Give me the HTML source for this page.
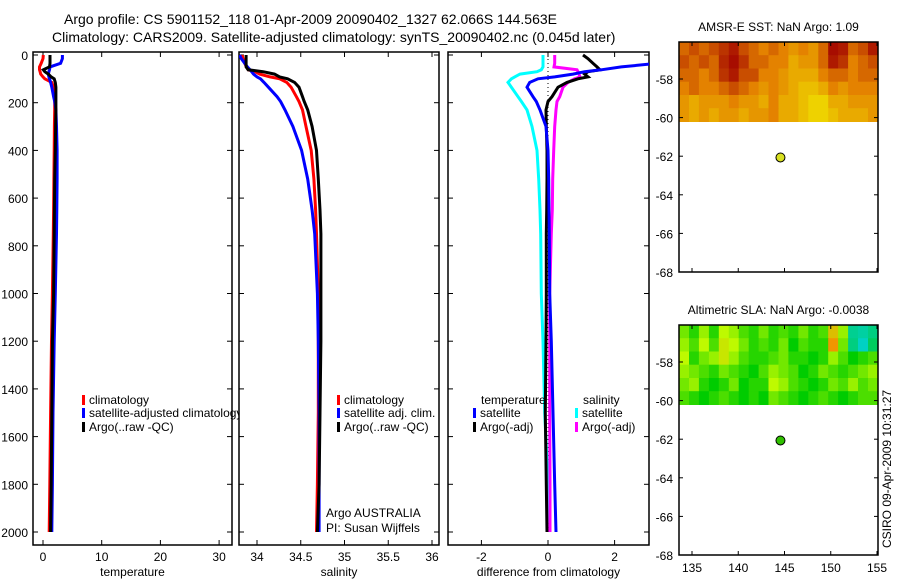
<!DOCTYPE html>
<html><head><meta charset="utf-8">
<style>
body{margin:0;background:#fff;}
svg{display:block;font-family:"Liberation Sans",Arial,sans-serif;}
</style></head>
<body>
<svg id="fig" width="900" height="580" viewBox="0 0 900 580" xmlns="http://www.w3.org/2000/svg">
<defs>
<clipPath id="c1"><rect x="33" y="52" width="199" height="493"/></clipPath>
<clipPath id="c2"><rect x="239" y="52" width="200" height="493"/></clipPath>
<clipPath id="c3"><rect x="448" y="52" width="201" height="493"/></clipPath>
<clipPath id="cl1"><rect x="33" y="380" width="206" height="60"/></clipPath>
</defs>
<text x="64" y="24" font-size="14">Argo profile: CS 5901152_118 01-Apr-2009 20090402_1327 62.066S 144.563E</text>
<text x="52" y="42" font-size="14">Climatology: CARS2009. Satellite-adjusted climatology: synTS_20090402.nc (0.045d later)</text>
<g id="g"></g>
</svg>
<script>
// ---- data ----
const depths = [0,15,35,50,62,70,80,92,100,115,135,175,195,230,300,400,520,650,750,1000,1200,1500,1800,2000];
const tempClim = [0.05,0.0,-0.3,-0.6,-0.6,-0.5,-0.4,0.0,0.3,1.5,1.8,2.0,2.0,2.0,1.95,1.9,1.85,1.8,1.75,1.6,1.45,1.3,1.15,1.05];
const tempArgo = [1.2,1.2,1.2,1.1,0.05,0.3,0.9,1.4,1.9,2.1,2.2,2.2,2.2,2.2,2.15,2.1,2.0,1.95,1.9,1.8,1.6,1.5,1.4,1.3];
const tempSat  = [3.3,3.3,3.0,1.2,1.1,1.0,0.9,1.0,1.1,1.3,1.5,1.8,2.0,2.2,2.3,2.4,2.4,2.35,2.3,2.1,1.9,1.7,1.6,1.5];
const salClim = [33.83,33.84,33.86,33.88,33.9,33.98,34.03,34.15,34.26,34.34,34.39,34.45,34.48,34.52,34.56,34.62,34.65,34.67,34.68,34.70,34.70,34.70,34.69,34.68];
const salArgo = [33.875,33.875,33.875,33.875,33.9,34.07,34.2,34.26,34.35,34.43,34.48,34.52,34.54,34.58,34.63,34.68,34.70,34.72,34.73,34.73,34.73,34.72,34.71,34.69];
const salSat  = [33.80,33.82,33.86,33.89,33.92,33.94,33.96,34.0,34.04,34.08,34.13,34.23,34.27,34.32,34.41,34.51,34.58,34.63,34.66,34.69,34.70,34.71,34.71,34.71];
const dTempSat  = [4.5,4.0,3.3,2.2,1.6,1.1,0.75,0.2,-0.3,-0.55,-0.63,-0.45,-0.35,-0.24,-0.06,0.0,0.02,0.03,0.04,0.05,0.1,0.15,0.2,0.24];
const dTempArgo = [1.05,1.2,1.35,1.47,1.56,1.2,1.1,1.2,0.9,0.57,0.3,0.12,0.0,-0.06,-0.05,-0.03,-0.03,-0.04,-0.05,-0.05,-0.06,-0.08,-0.05,-0.03];
const dSalSat   = [-0.15,-0.15,-0.15,-0.15,-0.2,-0.33,-0.84,-1.0,-1.1,-1.2,-1.1,-0.9,-0.8,-0.63,-0.48,-0.33,-0.28,-0.24,-0.22,-0.2,-0.15,-0.1,0.0,0.06];
const dSalArgo  = [0.2,0.2,0.2,0.18,0.87,0.9,0.93,0.96,0.8,0.6,0.45,0.35,0.27,0.24,0.2,0.17,0.14,0.13,0.1,0.05,0.05,0.05,0.06,0.06];
const depthTicks = [0,200,400,600,800,1000,1200,1400,1600,1800,2000];
const tempTicks = [0,10,20,30];
const salTicks = [34,34.5,35,35.5,36];
const diffTicks = [-2,0,2];
const lonTicks = [135,140,145,150,155];
const latTicks = [-58,-60,-62,-64,-66,-68];
const floatLon = 144.563, floatLat = -62.066;
const sstGrid = [
[0.6,0.7,0.6,0.7,0.8,0.9,0.7,0.6,0.5,0.6,0.5,0.4,0.5,0.4,0.6,0.95,0.9,0.6,0.7,0.9],
[0.7,0.6,0.7,0.6,0.85,0.95,0.8,0.6,0.6,0.5,0.5,0.3,0.4,0.4,0.6,0.9,0.8,0.5,0.6,0.7],
[0.6,0.6,0.5,0.6,0.8,0.9,0.7,0.7,0.5,0.5,0.4,0.3,0.3,0.3,0.5,0.6,0.6,0.5,0.6,0.6],
[0.5,0.6,0.5,0.5,0.6,0.7,0.6,0.5,0.4,0.5,0.4,0.3,0.2,0.2,0.3,0.5,0.4,0.5,0.5,0.5],
[0.4,0.3,0.4,0.4,0.4,0.5,0.4,0.4,0.3,0.5,0.3,0.3,0.2,0.1,0.1,0.3,0.3,0.4,0.4,0.4],
[0.4,0.3,0.4,0.3,0.4,0.4,0.3,0.4,0.4,0.5,0.3,0.3,0.2,0.1,0.1,0.2,0.3,0.3,0.3,0.4]];
const slaGrid = [
[0.3,0.1,0.4,0.1,0.5,0.4,0.2,0.1,0.3,0.1,0.2,0.1,0.3,0.1,0.2,0.8,0.4,-0.5,-0.6,-0.4],
[0.4,0.2,0.5,0.2,0.6,0.5,0.3,0.1,0.2,0.1,0.3,0.0,0.2,0.1,0.1,1.0,0.3,-0.4,-0.8,-0.2],
[0.5,0.1,0.3,0.4,0.6,0.4,0.2,0.1,0.1,0.2,0.3,0.1,0.1,0.0,0.1,0.4,0.2,0.0,0.1,0.2],
[0.4,0.3,0.2,0.1,0.3,0.2,0.1,0.0,0.2,0.4,0.3,0.2,0.0,0.1,0.3,0.2,0.1,0.2,0.3,0.4],
[0.3,0.4,0.1,0.0,0.1,0.3,0.0,0.1,0.1,0.5,0.4,0.2,0.1,0.0,0.1,0.3,0.2,0.4,0.2,0.3],
[0.2,0.1,0.0,0.1,0.2,0.1,0.0,0.1,0.0,0.3,0.2,0.1,0.0,0.1,0.2,0.1,0.0,0.1,0.2,0.2]];

// ---- helpers ----
const NS="http://www.w3.org/2000/svg";
const G=document.getElementById('g');
function el(tag,attrs,parent,txt){const e=document.createElementNS(NS,tag);for(const k in attrs)e.setAttribute(k,attrs[k]);if(txt!==undefined)e.textContent=txt;(parent||G).appendChild(e);return e;}
const yD = d => 55 + d*0.2385;
const xT = t => 43 + t*5.87;
const xS = s => 257 + (s-34)*87.5;
const xDf = v => 548 + v*33.3;

function line(xs, fx, color, clip, name, w){
  const pts = xs.map((v,i)=>fx(v).toFixed(1)+','+yD(depths[i]).toFixed(1)).join(' ');
  const p = el('polyline',{points:pts,fill:'none',stroke:color,'stroke-width':w||3,'clip-path':'url(#'+clip+')'});
  
  
}
function panel(x0,x1,ticksX,fx,labelled,xlabel,name){
  const r = el('rect',{x:x0,y:52,width:x1-x0,height:493,fill:'none',stroke:'#000','stroke-width':1.5});
  
  
  depthTicks.forEach(d=>{
    const y=yD(d);
    el('line',{x1:x0,x2:x0+5,y1:y,y2:y,stroke:'#000'});
    el('line',{x1:x1-5,x2:x1,y1:y,y2:y,stroke:'#000'});
    if(labelled){const t=el('text',{x:x0-5,y:y+5,'font-size':12,'text-anchor':'end'},G,String(d));
      
      }
  });
  ticksX.forEach(v=>{
    const x=fx(v);
    el('line',{x1:x,x2:x,y1:52,y2:57,stroke:'#000'});
    el('line',{x1:x,x2:x,y1:540,y2:545,stroke:'#000'});
    const t=el('text',{x:x,y:561,'font-size':12,'text-anchor':'middle'},G,String(v));
    
    
  });
  const xl=el('text',{x:(x0+x1)/2,y:576,'font-size':12,'text-anchor':'middle'},G,xlabel);
  
  
}
function legendEntry(x,y,color,label,clip){
  el('rect',{x:x,y:y-9,width:3,height:10,fill:color});
  const t=el('text',{x:x+7,y:y,'font-size':12,'clip-path':clip?'url(#'+clip+')':''},G,label);
  
  
}

// panel 1 temperature
panel(33,232,tempTicks,xT,true,'temperature','temperature-panel');
line(tempClim,xT,'#f00','c1','temp-climatology-line');
line(tempSat,xT,'#00f','c1','temp-satellite-line');
line(tempArgo,xT,'#000','c1','temp-argo-line');
legendEntry(82,404,'#f00','climatology');
legendEntry(82,417,'#00f','satellite-adjusted climatology','cl1');
legendEntry(82,431,'#000','Argo(..raw -QC)');

// panel 2 salinity
panel(239,439,salTicks,xS,false,'salinity','salinity-panel');
line(salClim,xS,'#f00','c2','sal-climatology-line');
line(salSat,xS,'#00f','c2','sal-satellite-line');
line(salArgo,xS,'#000','c2','sal-argo-line');
legendEntry(337,404,'#f00','climatology');
legendEntry(337,417,'#00f','satellite adj. clim.');
legendEntry(337,431,'#000','Argo(..raw -QC)');
let t=el('text',{x:326,y:517,'font-size':12},G,'Argo AUSTRALIA');


t=el('text',{x:326,y:532,'font-size':12},G,'PI: Susan Wijffels');



// panel 3 difference
panel(448,649,diffTicks,xDf,false,'difference from climatology','difference-panel');
el('line',{x1:xDf(0),x2:xDf(0),y1:yD(0),y2:yD(2000),stroke:'#000','stroke-width':1,'stroke-dasharray':'1,3'});
line(dSalSat,xDf,'#0ff','c3','sal-diff-satellite-line');
line(dSalArgo,xDf,'#f0f','c3','sal-diff-argo-line');
line(dTempArgo,xDf,'#000','c3','temp-diff-argo-line');
line(dTempSat,xDf,'#00f','c3','temp-diff-satellite-line');
t=el('text',{x:481,y:404,'font-size':12},G,'temperature');


t=el('text',{x:583,y:404,'font-size':12},G,'salinity');


legendEntry(473,417,'#00f','satellite');
legendEntry(473,431,'#000','Argo(-adj)');
legendEntry(575,417,'#0ff','satellite');
legendEntry(575,431,'#f0f','Argo(-adj)');

// maps
const mapX0=679,mapX1=878;
const xLon = l => 692 + (l-135)*9.25;
function lerpC(a,b,f){return 'rgb('+a.map((v,i)=>Math.round(v+(b[i]-v)*f)).join(',')+')';}
function sstColor(v){return v<0.5?lerpC([240,230,0],[228,130,0],v/0.5):lerpC([228,130,0],[160,0,0],(v-0.5)/0.5);}
function slaColor(v){
  if(v<0) return lerpC([0,204,60],[0,210,230],Math.min(1,-v));
  if(v<0.5) return lerpC([0,204,0],[190,250,0],v/0.5);
  return lerpC([190,250,0],[240,150,0],(v-0.5)/0.5);
}
function map(top,name,title,grid,cfn){
  const yLat = l => top + 37 + (-58 - l)*19.3;
  const latTop = -58 + 37/19.3;
  const rows=grid.length, cols=grid[0].length;
  const lonL=133.6, lonR=155.1, latB=-60.2;
  const cw=(xLon(lonR)-xLon(lonL))/cols, ch=(yLat(latB)-yLat(latTop))/rows;
  grid.forEach((row,r)=>row.forEach((v,c)=>{
    const rc=el('rect',{x:(xLon(lonL)+c*cw).toFixed(1),y:(yLat(latTop)+r*ch).toFixed(1),width:(cw+0.6).toFixed(1),height:(ch+0.6).toFixed(1),fill:cfn(v)});
    
    
  }));
  const bottom=top+230;
  const fr=el('rect',{x:mapX0,y:top,width:mapX1-mapX0,height:bottom-top,fill:'none',stroke:'#000','stroke-width':1.5});
  
  
  latTicks.forEach(l=>{const y=yLat(l);
    el('line',{x1:mapX0,x2:mapX0+4,y1:y,y2:y,stroke:'#000'});
    el('line',{x1:mapX1-4,x2:mapX1,y1:y,y2:y,stroke:'#000'});
    const tt=el('text',{x:673,y:y+5,'font-size':12,'text-anchor':'end'},G,String(l));
    
    
  });
  lonTicks.forEach(l=>{const x=xLon(l);
    el('line',{x1:x,x2:x,y1:top,y2:top+4,stroke:'#000'});
    el('line',{x1:x,x2:x,y1:bottom-4,y2:bottom,stroke:'#000'});
  });
  const ti=el('text',{x:(mapX0+mapX1)/2,y:top-11,'font-size':12,'text-anchor':'middle'},G,title);
  
  
  const dot=el('circle',{cx:xLon(floatLon),cy:yLat(floatLat),r:4.5,fill:name==='sst-map'?'#d8e020':'#30c000',stroke:'#000','stroke-width':1});
  
  
  return bottom;
}
map(42,'sst-map','AMSR-E SST: NaN Argo: 1.09',sstGrid,sstColor);
const b=map(325,'sla-map','Altimetric SLA: NaN Argo: -0.0038',slaGrid,slaColor);
lonTicks.forEach(l=>{
  const tt=el('text',{x:xLon(l),y:b+17,'font-size':12,'text-anchor':'middle'},G,String(l));
  
  
});
t=el('text',{x:0,y:0,'font-size':12,transform:'translate(891,548) rotate(-90)'},G,'CSIRO 09-Apr-2009 10:31:27');


</script>
</body></html>
